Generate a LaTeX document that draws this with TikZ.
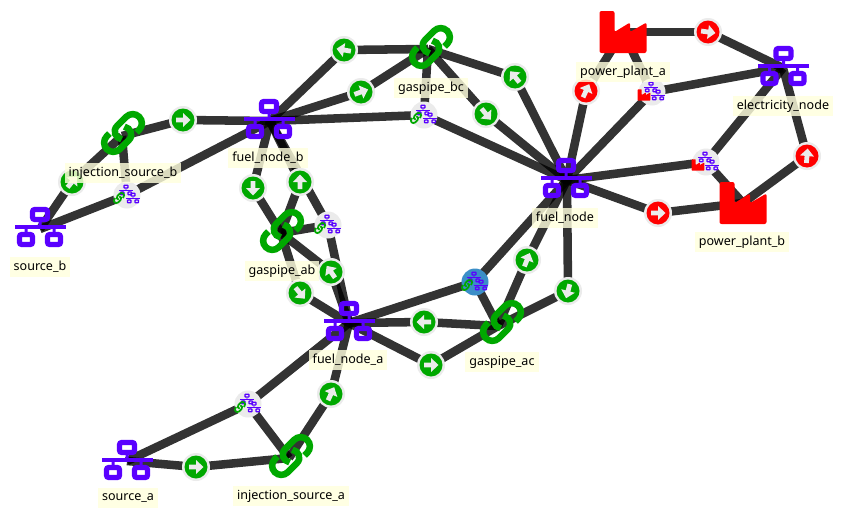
\documentclass[tikz,border=0pt]{standalone}
\usepackage{fontspec}
\setmainfont{Noto Sans}
\definecolor{hubc}{HTML}{5A00FF}
\definecolor{okc}{HTML}{00A800}
\definecolor{badc}{HTML}{FF0000}
\definecolor{haloc}{HTML}{EBEBEB}
\definecolor{labc}{HTML}{FFFFDD}
\definecolor{globec}{HTML}{3B8EC8}
\tikzset{
  edge/.style={draw=black,draw opacity=.8,line width=6.4pt},
  lab/.style={fill=labc,fill opacity=.82,text opacity=1,inner sep=0pt,minimum height=15pt,font=\fontsize{9.4}{11}\selectfont,inner xsep=3pt},
  anchorpt/.style={coordinate}
}
\newcommand{\hubicon}[3]{\begin{scope}[shift={(#1,-#2)},scale=#3]
 \draw[hubc,line width=#3*3.8pt,rounded corners=#3*1.5pt] (-7.5,7.5) rectangle (7.5,17.5);
 \draw[hubc,line width=#3*3.8pt,rounded corners=#3*1.5pt] (-20.5,-7.5) rectangle (-7.5,-17.5);
 \draw[hubc,line width=#3*3.8pt,rounded corners=#3*1.5pt] (7.5,-7.5) rectangle (20.5,-17.5);
 \fill[hubc] (-25.5,-1.6) rectangle (25.5,1.6);
 \fill[hubc] (-1.5,0) rectangle (1.5,6) (-15.5,0) rectangle (-12.5,-6) (12.5,0) rectangle (15.5,-6);
\end{scope}}
\newcommand{\linkicon}[4]{\begin{scope}[shift={(#1,-#2)},scale=#3,rotate=45]
 \draw[#4,line width=#3*4.9pt] (10,-9.2) -- (13.7,-9.2) arc (-90:90:9.2) -- (1,9.2) .. controls (-6,9.2) and (-9,2) .. (-5.5,-3.5);
 \draw[#4,line width=#3*4.9pt] (-10,9.2) -- (-13.7,9.2) arc (90:270:9.2) -- (-1,-9.2) .. controls (6,-9.2) and (9,-2) .. (5.5,3.5);
\end{scope}}
\newcommand{\factoryicon}[3]{\begin{scope}[shift={(#1,-#2)},scale=#3]
 \fill[badc,rounded corners=#3*1.5pt] (-23.5,-21) -- (-23.5,21) -- (-8.5,21) -- (-8.5,0) -- (7,9.5) -- (7,0) -- (23.5,9.5) -- (23.5,-21) -- cycle;
\end{scope}}
\newcommand{\flowmark}[5]{\node[anchorpt] (#1) at (#2,-#3) {};
 \fill[haloc] (#1) circle (14);
 \fill[#4] (#1) circle (11.5);
 \begin{scope}[shift={(#2,-#3)},rotate=#5]
 \fill[haloc] (-7,-2.4) -- (0,-2.4) -- (0,-7) -- (7.5,0) -- (0,7) -- (0,2.4) -- (-7,2.4) -- cycle;
 \end{scope}}
\newcommand{\mixbase}[4]{\node[anchorpt] (#1) at (#2,-#3) {};
 \fill[#4] (#1) circle (13.5);
 \hubicon{\fpeval{#2-1}}{\fpeval{#3-5}}{.27}
 \hubicon{\fpeval{#2+6}}{\fpeval{#3+3}}{.27}}
\newcommand{\mixlink}[4]{\mixbase{#1}{#2}{#3}{#4}
 \linkicon{\fpeval{#2-8}}{\fpeval{#3+3}}{.27}{okc}}
\newcommand{\mixfactory}[3]{\mixbase{#1}{#2}{#3}{haloc}
 \factoryicon{\fpeval{#2-8}}{\fpeval{#3+3}}{.27}}
\begin{document}
\begin{tikzpicture}[x=.75pt,y=.75pt]
\useasboundingbox (0,0) rectangle (846,-514);
\fill[white] (0,0) rectangle (846,-514);
% anchors of the large icons
\node[anchorpt] (sourceb) at (40,-229) {};
\node[anchorpt] (sourcea) at (127,-461) {};
\node[anchorpt] (fuelb) at (270,-121) {};
\node[anchorpt] (fuela) at (349,-323) {};
\node[anchorpt] (fuelc) at (567,-180) {};
\node[anchorpt] (elec) at (783,-68) {};
\node[anchorpt] (injb) at (122,-136) {};
\node[anchorpt] (inja) at (289,-458) {};
\node[anchorpt] (gasab) at (281,-233) {};
\node[anchorpt] (gasbc) at (428,-49) {};
\node[anchorpt] (gasac) at (498,-326) {};
\node[anchorpt] (ppa) at (623,-32) {};
\node[anchorpt] (ppb) at (743,-203) {};
\foreach \n/\x/\y in {f1/72/182,f2/183/120,f3/253/188,f4/300/182,f5/331/272,f6/300/293,f7/424/322,f8/431/365,f9/527/260,f10/568/291,f11/515/77,f12/486/114,f13/344/50,f14/361/92,f15/586/91,f16/708/32,f17/807/156,f18/658/213,f19/196/467,f20/331/394,m1/127/195,m2/328/225,m3/475/282,m4/424/115,m5/652/92,m6/706/162,m7/248/404}
  \node[anchorpt] (\n) at (\x,-\y) {};
% connectors
\foreach \a/\b in {sourceb/f1,f1/injb,sourceb/m1,m1/fuelb,injb/m1,injb/f2,f2/fuelb,fuelb/f3,f3/gasab,gasab/f4,f4/fuelb,fuelb/m2,m2/fuela,gasab/m2,fuela/f5,f5/gasab,gasab/f6,f6/fuela,fuela/m3,m3/fuelc,m3/gasac,gasac/f7,f7/fuela,fuela/f8,f8/gasac,gasac/f9,f9/fuelc,fuelc/f10,f10/gasac,fuelc/f11,f11/gasbc,gasbc/f12,f12/fuelc,gasbc/m4,fuelb/m4,m4/fuelc,gasbc/f13,f13/fuelb,fuelb/f14,f14/gasbc,fuelc/f15,f15/ppa,fuelc/m5,m5/elec,ppa/m5,ppa/f16,f16/elec,fuelc/m6,m6/elec,ppb/m6,fuelc/f18,f18/ppb,ppb/f17,f17/elec,fuela/f20,f20/inja,sourcea/f19,f19/inja,sourcea/m7,m7/fuela,inja/m7}
  \draw[edge] (\a) -- (\b);
% hubs, links, factories
\hubicon{40}{227}{1}
\hubicon{127}{460}{1}
\hubicon{269}{119}{1}
\hubicon{349}{321}{1}
\hubicon{566}{178}{1}
\hubicon{783.5}{66}{1}
\linkicon{123}{133}{1}{okc}
\linkicon{291}{456}{1}{okc}
\linkicon{282}{231}{1}{okc}
\linkicon{431}{47}{1}{okc}
\linkicon{502}{322}{1}{okc}
\factoryicon{623}{32}{1}
\factoryicon{743}{203}{1}
% flow marks
\flowmark{f1}{72}{182}{okc}{50}
\flowmark{f2}{183}{120}{okc}{0}
\flowmark{f3}{253}{188}{okc}{-90}
\flowmark{f4}{300}{182}{okc}{90}
\flowmark{f5}{331}{272}{okc}{125}
\flowmark{f6}{300}{293}{okc}{-50}
\flowmark{f7}{424}{322}{okc}{180}
\flowmark{f8}{431}{365}{okc}{0}
\flowmark{f9}{527}{260}{okc}{68}
\flowmark{f10}{568}{291}{okc}{-105}
\flowmark{f11}{515}{77}{okc}{130}
\flowmark{f12}{486}{114}{okc}{-50}
\flowmark{f13}{344}{50}{okc}{170}
\flowmark{f14}{361}{92}{okc}{20}
\flowmark{f15}{586}{91}{badc}{65}
\flowmark{f16}{708}{32}{badc}{-8}
\flowmark{f17}{807}{156}{badc}{85}
\flowmark{f18}{658}{213}{badc}{0}
\flowmark{f19}{196}{467}{okc}{0}
\flowmark{f20}{331}{394}{okc}{65}
% mixed marks
\mixlink{m1}{127}{195}{haloc}
\mixlink{m2}{328}{225}{haloc}
\mixlink{m3}{475}{282}{globec}
\mixlink{m4}{424}{115}{haloc}
\mixlink{m7}{248}{404}{haloc}
\mixfactory{m5}{652}{92}
\mixfactory{m6}{706}{162}
% labels
\node[lab] (lsb) at (40,-267) {source\_b};
\node[lab] (lib) at (123,-173) {injection\_source\_b};
\node[lab] (lfb) at (268,-158) {fuel\_node\_b};
\node[lab] (lab) at (282,-271) {gaspipe\_ab};
\node[lab] (lfa) at (348,-360) {fuel\_node\_a};
\node[lab] (lac) at (502,-362) {gaspipe\_ac};
\node[lab] (lia) at (291,-496) {injection\_source\_a};
\node[lab] (lsa) at (128,-498) {source\_a};
\node[lab] (lfc) at (565,-218) {fuel\_node};
\node[lab] (lpb) at (742,-242) {power\_plant\_b};
\node[lab] (lel) at (783,-106) {electricity\_node};
\node[lab] (lpa) at (623,-72) {power\_plant\_a};
\node[lab] (lbc) at (431,-88) {gaspipe\_bc};
\end{tikzpicture}
\end{document}
